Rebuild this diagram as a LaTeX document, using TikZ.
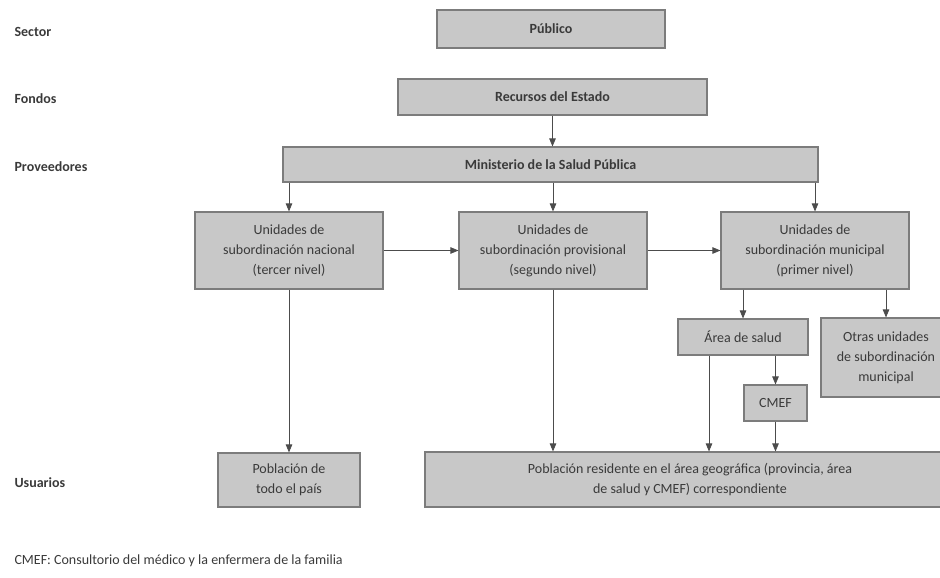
\documentclass[tikz,border=0pt]{standalone}
\usepackage{fontspec}
\setmainfont{Carlito}
\usepackage{xcolor}
\usetikzlibrary{arrows.meta, positioning, calc}

\definecolor{boxfill}{HTML}{C8C8C8}
\definecolor{boxline}{HTML}{7C7C7C}
\definecolor{txt}{HTML}{3A3A3A}
\newcommand{\diafont}{\fontsize{14}{20}\selectfont}

\tikzset{
  box/.style={draw=boxline, line width=1.1pt, fill=boxfill, text=txt, align=center, inner sep=0pt, font=\diafont},
  boldbox/.style={box, font=\diafont\bfseries},
  head/.style={anchor=west, text=txt, font=\diafont\bfseries},
  link/.style={->, draw=black!70, line width=0.8pt}
}

\begin{document}
\begin{tikzpicture}[x=1pt, y=-1pt, font=\diafont, >={Triangle[length=8pt,width=6.5pt]}]
    \clip (0,0) rectangle (940,578);

    \node[head] (sector) at (11,32) {Sector};
    \node[head] (fondos) at (11,99) {Fondos};
    \node[head] (prov-lbl) at (11,167) {Proveedores};
    \node[head] (usu) at (11,483) {Usuarios};

    \node[boldbox, minimum width=228pt, minimum height=38pt] at (551,29) (pub) {Público};
    \node[boldbox, minimum width=309pt, minimum height=36pt] at (552.5,97) (rec) {Recursos del Estado};
    \node[boldbox, minimum width=535pt, minimum height=35pt] at (550.5,164.5) (min) {Ministerio de la Salud Pública};

    \node[box, minimum width=188pt, minimum height=77pt] at (289,250.5) (nac) {Unidades de\\subordinación nacional\\(tercer nivel)};
    \node[box, minimum width=188pt, minimum height=77pt] at (553,250.5) (prov) {Unidades de\\subordinación provisional\\(segundo nivel)};
    \node[box, minimum width=188pt, minimum height=77pt] at (815,250.5) (mun) {Unidades de\\subordinación municipal\\(primer nivel)};

    \node[box, minimum width=130pt, minimum height=36pt] at (743,337) (area) {Área de salud};
    \node[box, minimum width=130pt, minimum height=79pt] at (886,357.5) (otras) {Otras unidades\\de subordinación\\municipal};
    \node[box, minimum width=63pt, minimum height=36pt] at (775.5,403) (cmef) {CMEF};

    \node[box, minimum width=142pt, minimum height=54pt] at (289,480) (pobt) {Población de\\todo el país};
    \node[box, minimum width=530pt, minimum height=55pt] at (690,479.5) (pobr) {Población residente en el área geográfica (provincia, área\\de salud y CMEF) correspondiente};

    \node[anchor=west, text=txt] (nota) at (11,561) {CMEF: Consultorio del médico y la enfermera de la familia};

    \draw[link] (rec.south) -- (rec.south |- min.north);
    \draw[link] (nac.north |- min.south) -- (nac.north);
    \draw[link] (prov.north |- min.south) -- (prov.north);
    \draw[link] (mun.north |- min.south) -- (mun.north);
    \draw[link] (nac) -- (prov);
    \draw[link] (prov) -- (mun);
    \draw[link] (area.north |- mun.south) -- (area.north);
    \draw[link] (otras.north |- mun.south) -- (otras.north);
    \draw[link] (cmef.north |- area.south) -- (cmef.north);
    \draw[link] (nac.south) -- (pobt.north);
    \draw[link] (prov.south) -- (prov.south |- pobr.north);
    \draw[link] ([xshift=-34pt]area.south) -- ([xshift=-34pt]area.south |- pobr.north);
    \draw[link] (cmef.south) -- (cmef.south |- pobr.north);
\end{tikzpicture}
\end{document}
